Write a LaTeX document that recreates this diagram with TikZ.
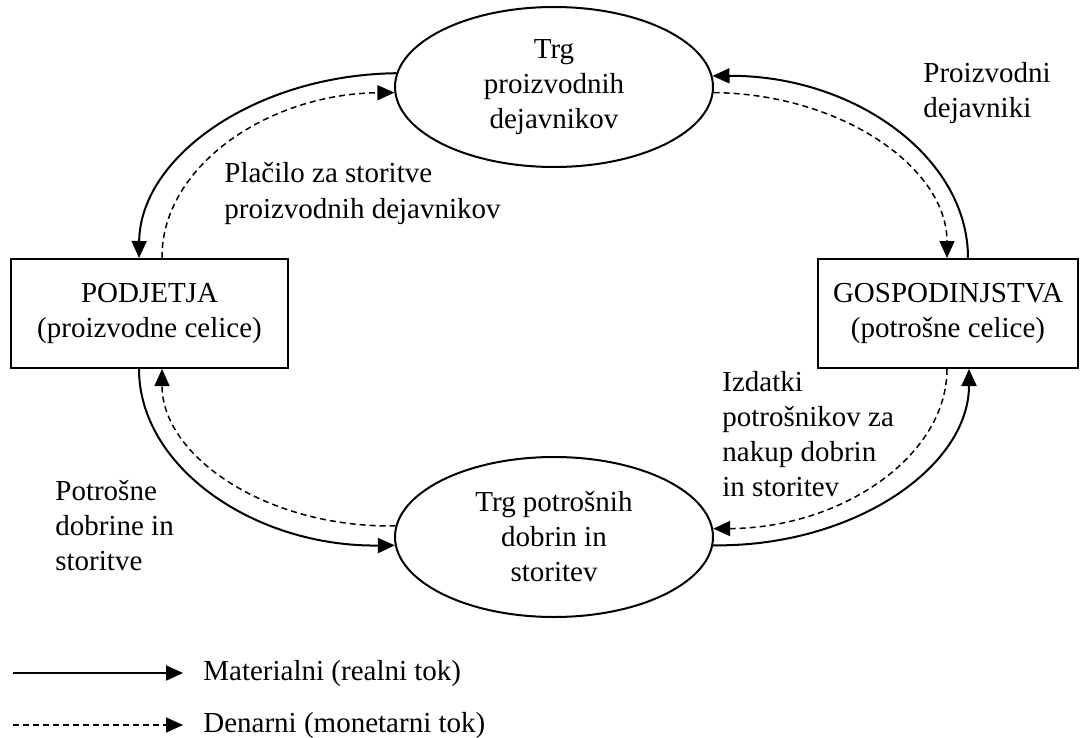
\documentclass[tikz,border=0pt]{standalone}
\usepackage{fontspec}
\setmainfont{Liberation Serif}
\usetikzlibrary{arrows.meta,shapes.geometric}
\begin{document}
\begin{tikzpicture}[x=0.5pt,y=-0.5pt,
  every node/.style={font=\fontsize{14.5}{17.5}\selectfont},
  mkt/.style={draw,line width=1pt,ellipse,minimum width=159pt,minimum height=80pt,inner sep=0pt,align=center},
  unit/.style={draw,line width=1pt,rectangle,minimum height=54.5pt,inner sep=0pt,align=center},
  real/.style={line width=1pt,-{Triangle[length=8.5pt,width=7.5pt]}},
  money/.style={line width=0.75pt,dash pattern=on 3pt off 2pt,-{Triangle[length=8.5pt,width=7.5pt]}},
  lbl/.style={align=left,anchor=base west,inner sep=0pt}]
\useasboundingbox (0,0) rectangle (1092,738);
\node[mkt] (fmkt) at (554,87) {Trg\\proizvodnih\\dejavnikov};
\node[mkt] (gmkt) at (554,537) {Trg potrošnih\\dobrin in\\storitev};
\node[unit,minimum width=138.5pt] (firms) at (149.5,313.5) {PODJETJA\\(proizvodne celice)};
\node[unit,minimum width=130pt] (hh) at (948,313.5) {GOSPODINJSTVA\\(potrošne celice)};

\draw[real] (fmkt.175.6) .. controls (255,75) and (140,157) .. ([xshift=-5.25pt]firms.north);
\draw[money] ([xshift=6.25pt]firms.north) .. controls (161,168) and (266,94) .. (fmkt.182.5);
\draw[real] ([xshift=10pt]hh.north) .. controls (968,157) and (854,75) .. (fmkt.4.4);
\draw[money] (fmkt.-2.5) .. controls (842,94) and (947,168) .. ([xshift=-0.5pt]hh.north);
\draw[real] ([xshift=-5.25pt]firms.south) .. controls (139,467) and (254,547) .. (gmkt.183.6);
\draw[money] (gmkt.176.7) .. controls (266,528) and (162,456) .. ([xshift=6.25pt]firms.south);
\draw[real] (gmkt.-3.6) .. controls (854,547) and (969,467) .. ([xshift=10.5pt]hh.south);
\draw[money] ([xshift=-0.5pt]hh.south) .. controls (947,456) and (842,528) .. (gmkt.3.3);

% base anchor of a multi-line node = baseline of its last line
\node[lbl] (l1) at (224,218) {Plačilo za storitve\\proizvodnih dejavnikov};
\node[lbl] (l2) at (923,118) {Proizvodni\\dejavniki};
\node[lbl] (l3) at (722,496) {Izdatki\\potrošnikov za\\nakup dobrin\\in storitev};
\node[lbl] (l4) at (55,570) {Potrošne\\dobrine in\\storitve};

\coordinate (s1) at (13,673);
\coordinate (s2) at (183,673);
\draw[real] (s1) -- (s2);
\node[lbl] (t1) at (203,680) {Materialni (realni tok)};
\coordinate (d1) at (13,725);
\coordinate (d2) at (183,725);
\draw[money] (d1) -- (d2);
\node[lbl] (t2) at (203,732) {Denarni (monetarni tok)};
\end{tikzpicture}
\end{document}
